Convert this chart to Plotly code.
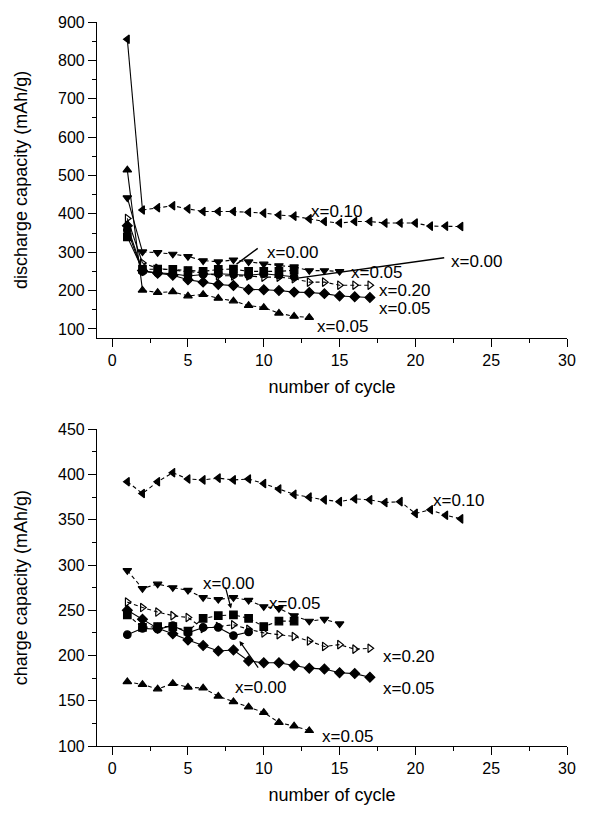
import plotly.graph_objects as go

# ---------------- data ----------------
# Top panel: discharge capacity (mAh/g) vs cycle number
dis_010_left = [855, 410, 416, 421, 413, 406, 406, 406, 404, 402, 397, 394, 387,
                380, 376, 380, 380, 376, 376, 376, 368, 368, 367]          # x=0.10  (◄)
dis_005_down = [442, 301, 299, 295, 289, 278, 275, 280, 275, 269, 265, 262, 252, 252, 250]  # x=0.05 (▼)
dis_000_sq = [340, 255, 256, 255, 252, 250, 255, 256, 250, 250, 250, 253]   # x=0.00 (■)
dis_020_open = [388, 272, 258, 253, 250, 246, 239, 238, 238, 235, 235, 231, 222,
                222, 214, 214, 214]                                          # x=0.20 (▷)
dis_000_circ = [358, 250, 246, 244, 238, 242, 244, 242, 240, 244, 240, 236]  # x=0.00 (●)
dis_005_dia = [369, 252, 245, 240, 228, 222, 216, 213, 203, 202, 200, 196, 195,
               192, 186, 184, 182]                                           # x=0.05 (◆)
dis_005_up = [514, 201, 195, 197, 186, 190, 180, 173, 161, 156, 141, 133, 130]  # x=0.05 (▲)

# Bottom panel: charge capacity (mAh/g) vs cycle number
chg_010_left = [392, 379, 392, 402, 395, 394, 396, 394, 395, 390, 384, 378, 375,
                372, 370, 373, 372, 369, 370, 357, 361, 355, 351]
chg_005_down = [294, 274, 279, 275, 272, 264, 262, 264, 261, 254, 252, 244, 238, 240, 235]
chg_000_sq = [245, 231, 232, 232, 227, 241, 244, 245, 241, 232, 238, 238]
chg_020_open = [259, 253, 248, 244, 242, 230, 232, 234, 229, 225, 223, 221, 216,
                210, 212, 207, 208]
chg_000_circ = [223, 230, 229, 233, 225, 231, 231, 222, 226]
chg_005_dia = [250, 240, 230, 224, 217, 211, 205, 206, 194, 192, 192, 189, 186,
               185, 181, 180, 176]
chg_005_up = [171, 168, 163, 169, 165, 164, 155, 149, 143, 137, 126, 122, 117]

# series styles: (symbol, dash)
styles = {
    "left": ("triangle-left", "dash"),
    "down": ("triangle-down", "dash"),
    "sq": ("square", "dash"),
    "open": ("triangle-right-open", "dash"),
    "circ": ("circle", "solid"),
    "dia": ("diamond", "solid"),
    "up": ("triangle-up", "dash"),
}

top_series = [("left", dis_010_left), ("down", dis_005_down), ("sq", dis_000_sq),
              ("open", dis_020_open), ("circ", dis_000_circ), ("dia", dis_005_dia),
              ("up", dis_005_up)]
bot_series = [("left", chg_010_left), ("down", chg_005_down), ("sq", chg_000_sq),
              ("open", chg_020_open), ("circ", chg_000_circ), ("dia", chg_005_dia),
              ("up", chg_005_up)]

# labels: (text, cycle, value)
top_labels = [("x=0.10", 13.0, 405), ("x=0.00", 10.05, 299), ("x=0.05", 15.6, 246),
              ("x=0.00", 22.2, 276), ("x=0.20", 17.45, 199), ("x=0.05", 17.45, 154),
              ("x=0.05", 13.4, 107)]
bot_labels = [("x=0.10", 21.05, 371), ("x=0.00", 5.88, 280), ("x=0.05", 10.2, 258),
              ("x=0.20", 17.7, 199), ("x=0.05", 17.7, 163), ("x=0.00", 8.0, 165),
              ("x=0.05", 13.7, 110)]
# leader lines: (x0, y0, x1, y1)
top_leaders = [(9.7, 313, 8.2, 269), (22.0, 286, 12.0, 231)]
bot_leaders = [(7.45, 277, 7.84, 252), (9.7, 185, 8.4, 216)]

FONT = "Liberation Sans, Arial, sans-serif"
fig = go.Figure()


def add_panel(series, xa, ya, solid_first):
    for key, vals in series:
        sym, dash = styles[key]
        cyc = list(range(1, len(vals) + 1))
        if solid_first:
            fig.add_trace(go.Scatter(x=cyc[:2], y=vals[:2], mode="lines",
                                     line=dict(color="black", width=1.1),
                                     xaxis=xa, yaxis=ya, showlegend=False,
                                     hoverinfo="skip"))
            cx, cy = cyc[1:], vals[1:]
        else:
            cx, cy = cyc, vals
        fig.add_trace(go.Scatter(x=cx, y=cy, mode="lines",
                                 line=dict(color="black", width=1.1,
                                           dash="solid" if dash == "solid" else "4px,3px"),
                                 xaxis=xa, yaxis=ya, showlegend=False))
        fig.add_trace(go.Scatter(x=cyc, y=vals, mode="markers",
                                 marker=dict(symbol=sym, size=7.5, color="black",
                                             line=dict(color="black", width=1.2)),
                                 xaxis=xa, yaxis=ya, showlegend=False))


add_panel(top_series, "x", "y", True)
add_panel(bot_series, "x2", "y2", False)

LBL = dict(family=FONT, size=17, color="black")
annotations = []
for txt, cx, cy in top_labels:
    annotations.append(dict(text=txt, x=cx, y=cy, xref="x", yref="y", showarrow=False,
                            xanchor="left", yanchor="middle", font=LBL))
for txt, cx, cy in bot_labels:
    annotations.append(dict(text=txt, x=cx, y=cy, xref="x2", yref="y2", showarrow=False,
                            xanchor="left", yanchor="middle", font=LBL))
# leader lines drawn as arrows
for x0, y0, x1, y1 in top_leaders:
    annotations.append(dict(text="", x=x1, y=y1, ax=x0, ay=y0, xref="x", yref="y",
                            axref="x", ayref="y", showarrow=True, arrowhead=0,
                            arrowwidth=1.4, arrowcolor="black"))
for x0, y0, x1, y1 in bot_leaders:
    annotations.append(dict(text="", x=x1, y=y1, ax=x0, ay=y0, xref="x2", yref="y2",
                            axref="x2", ayref="y2", showarrow=True, arrowhead=2,
                            arrowsize=0.8, arrowwidth=1.2, arrowcolor="black"))

tickfont = dict(family=FONT, size=16, color="black")
titlefont = dict(family=FONT, size=18, color="black")

common_x = dict(range=[-1, 30], tick0=0, dtick=5, showgrid=False, zeroline=False,
                showline=True, linecolor="black", linewidth=1.2, ticks="outside",
                ticklen=8, tickwidth=1.1, tickcolor="black", tickfont=tickfont,
                minor=dict(dtick=2.5, ticks="outside", ticklen=4, tickcolor="black"))
mirror_x = dict(range=[-1, 30], tick0=0, dtick=5, showgrid=False, zeroline=False,
                showline=True, linecolor="black", linewidth=1.2, ticks="inside",
                ticklen=7, tickwidth=1.1, tickcolor="black", showticklabels=False,
                side="top",
                minor=dict(dtick=2.5, ticks="inside", ticklen=4, tickcolor="black"))


def y_common(rng, dt, mdt, t0):
    return dict(range=rng, tick0=t0, dtick=dt, showgrid=False, zeroline=False,
                showline=True, linecolor="black", linewidth=1.2, ticks="outside",
                ticklen=8, tickwidth=1.1, tickcolor="black", tickfont=tickfont,
                minor=dict(dtick=mdt, ticks="outside", ticklen=4, tickcolor="black"))


def y_mirror(rng, dt, mdt, t0):
    return dict(range=rng, tick0=t0, dtick=dt, showgrid=False, zeroline=False,
                showline=True, linecolor="black", linewidth=1.2, ticks="inside",
                ticklen=7, tickwidth=1.1, tickcolor="black", showticklabels=False,
                side="right",
                minor=dict(dtick=mdt, ticks="inside", ticklen=4, tickcolor="black"))


# the page body adds an 8px margin, so the figure is sized/positioned to compensate
top_dom = [(742 - 327) / 736, 1.0]
bot_dom = [0.0, (742 - 420) / 736]

fig.update_layout(
    width=574, height=800,
    margin=dict(l=89, r=9, t=6, b=58),
    paper_bgcolor="white", plot_bgcolor="white",
    showlegend=False,
    xaxis=dict(**common_x, anchor="y", domain=[0, 1],
               title=dict(text="number of cycle", font=titlefont, standoff=12)),
    yaxis=dict(**y_common([77, 900], 100, 50, 100), anchor="x", domain=top_dom,
               title=dict(text="discharge capacity (mAh/g)", font=titlefont, standoff=25)),
    xaxis2=dict(**common_x, anchor="y2", domain=[0, 1],
                title=dict(text="number of cycle", font=titlefont, standoff=12)),
    yaxis2=dict(**y_common([100, 450], 50, 25, 100), anchor="x2", domain=bot_dom,
                title=dict(text="charge capacity (mAh/g)", font=titlefont, standoff=25)),
    xaxis3=dict(**mirror_x, overlaying="x", anchor="y"),
    yaxis3=dict(**y_mirror([77, 900], 100, 50, 100), overlaying="y", anchor="x"),
    xaxis4=dict(**mirror_x, overlaying="x2", anchor="y2"),
    yaxis4=dict(**y_mirror([100, 450], 50, 25, 100), overlaying="y2", anchor="x2"),
    annotations=annotations,
)

fig.write_html("out.html")
